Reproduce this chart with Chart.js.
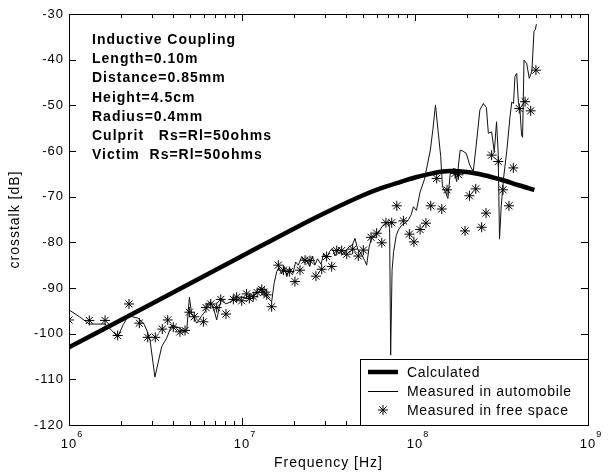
<!DOCTYPE html>
<html>
<head>
<meta charset="utf-8">
<title>Crosstalk vs frequency</title>
<script src="https://cdn.jsdelivr.net/npm/chart.js@4.4.1/dist/chart.umd.min.js"></script>
<style>
  html, body { margin: 0; padding: 0; background: #fff; }
</style>
</head>
<body>
<canvas id="crosstalk-chart" width="608" height="475"></canvas>
<script>
// calculated crosstalk (thick curve)
const calcFreq = [1e6, 3.162e6, 1e7, 1.995e7, 3.162e7, 5.012e7, 6.31e7, 8.185e7, 1e8, 1.259e8,
                  1.585e8, 1.995e8, 2.512e8, 3.162e8, 3.981e8, 4.898e8];
const calcDb = [-103, -93.0, -83.0, -77.0, -73.2, -69.7, -68.2, -66.8, -65.8, -64.9,
                -64.4, -64.6, -65.3, -66.3, -67.5, -68.5];

// measured in automobile (thin line)
const autoFreq = [1e6, 1.15e6, 1.31e6, 1.616e6, 1.77e6, 1.911e6, 2.059e6, 2.203e6, 2.515e6, 2.723e6,
                  2.813e6, 2.94e6, 3.138e6, 3.436e6, 3.668e6, 3.925e6, 4.141e6, 4.379e6, 4.545e6, 4.784e6,
                  4.965e6, 5.107e6, 5.476e6, 5.872e6, 6.11e6, 6.342e6, 6.598e6, 6.912e6, 7.141e6, 7.412e6,
                  7.64e6, 8.042e6, 8.525e6, 8.931e6, 9.357e6, 9.919e6, 1.051e7, 1.111e7, 1.154e7, 1.209e7,
                  1.27e7, 1.327e7, 1.39e7, 1.484e7, 1.533e7, 1.588e7, 1.637e7, 1.695e7, 1.755e7, 1.817e7,
                  1.882e7, 1.971e7, 2.041e7, 2.115e7, 2.215e7, 2.294e7, 2.376e7, 2.46e7, 2.548e7, 2.638e7,
                  2.732e7, 2.862e7, 2.964e7, 3.069e7, 3.215e7, 3.33e7, 3.448e7, 3.613e7, 3.785e7, 3.966e7,
                  4.155e7, 4.353e7, 4.497e7, 4.668e7, 4.89e7, 5.124e7, 5.257e7, 5.431e7, 5.624e7, 5.892e7,
                  6.173e7, 6.468e7, 6.777e7, 7.017e7, 7.133e7, 7.233e7, 7.37e7, 7.525e7, 7.793e7, 8.014e7,
                  8.357e7, 8.756e7, 9.173e7, 9.499e7, 9.792e7, 1.019e8, 1.07e8, 1.132e8, 1.227e8, 1.271e8,
                  1.313e8, 1.363e8, 1.408e8, 1.441e8, 1.497e8, 1.549e8, 1.605e8, 1.681e8, 1.741e8, 1.824e8,
                  1.884e8, 1.978e8, 2.073e8, 2.172e8, 2.275e8, 2.372e8, 2.485e8, 2.587e8, 2.654e8, 2.773e8,
                  2.873e8, 2.96e8, 3.023e8, 3.08e8, 3.152e8, 3.242e8, 3.397e8, 3.541e8, 3.625e8, 3.71e8,
                  3.781e8, 3.87e8, 3.961e8, 4.045e8, 4.131e8, 4.188e8, 4.267e8, 4.419e8, 4.577e8, 4.739e8,
                  4.873e8, 4.965e8, 5.03e8];
const autoDb = [-94.8, -96.3, -97.9, -97.9, -99.3, -100.7, -98.0, -96.1, -96.6, -98.0,
                -99.2, -101.4, -109.5, -102.8, -101.0, -98.1, -98.5, -98.8, -99.4, -99.6,
                -92.0, -95.5, -97.7, -96.0, -95.2, -93.4, -93.1, -95.0, -97.0, -94.0,
                -92.3, -93.5, -93.1, -92.6, -92.7, -92.0, -92.2, -91.5, -92.0, -90.8,
                -89.8, -91.0, -91.9, -93.0, -89.0, -86.4, -85.5, -86.9, -85.3, -87.5,
                -85.6, -86.8, -84.3, -85.0, -83.1, -84.5, -84.0, -85.3, -83.0, -85.0,
                -83.6, -84.8, -82.5, -83.5, -82.0, -81.3, -83.0, -81.5, -82.6, -82.0,
                -81.0, -80.5, -79.1, -81.5, -82.5, -84.0, -85.0, -81.0, -78.9, -78.6,
                -77.8, -76.5, -76.0, -75.5, -77.0, -104.7, -86.1, -82.0, -78.5, -77.3,
                -76.3, -75.8, -75.0, -74.0, -72.2, -73.0, -69.0, -66.3, -59.8, -55.0,
                -49.9, -56.0, -61.2, -67.8, -68.9, -70.4, -64.3, -63.8, -66.7, -59.8,
                -60.0, -60.5, -63.1, -64.5, -57.6, -51.0, -49.6, -50.5, -56.1, -55.8,
                -60.2, -53.6, -60.0, -79.3, -72.0, -66.3, -59.8, -52.5, -49.3, -49.6,
                -43.7, -43.0, -49.3, -51.0, -56.5, -57.0, -40.1, -40.8, -44.1, -42.5,
                -33.8, -33.4, -32.2];

// measured in free space (asterisks)
const freeFreq = [1e6, 1.31e6, 1.616e6, 1.911e6, 2.223e6, 2.55e6, 2.852e6, 3.153e6, 3.461e6, 3.72e6,
                  4.009e6, 4.379e6, 4.685e6, 4.965e6, 5.3e6, 5.982e6, 6.195e6, 6.598e6, 7.141e6, 7.534e6,
                  8.081e6, 8.911e6, 9.313e6, 9.964e6, 1.063e7, 1.102e7, 1.162e7, 1.224e7, 1.3e7, 1.342e7,
                  1.39e7, 1.484e7, 1.621e7, 1.735e7, 1.878e7, 2.023e7, 2.164e7, 2.316e7, 2.471e7, 2.675e7,
                  2.889e7, 3.084e7, 3.3e7, 3.529e7, 3.768e7, 4.031e7, 4.363e7, 4.701e7, 5.029e7, 5.572e7,
                  6.004e7, 6.423e7, 6.792e7, 7.335e7, 7.847e7, 8.574e7, 9.28e7, 9.859e7, 1.07e8, 1.157e8,
                  1.233e8, 1.335e8, 1.428e8, 1.531e8, 1.705e8, 1.786e8, 1.946e8, 2.063e8, 2.244e8, 2.428e8,
                  2.574e8, 2.773e8, 3.03e8, 3.227e8, 3.493e8, 3.702e8, 4.007e8, 4.327e8, 4.662e8, 5.0e8];
const freeDb = [-97.0, -97.1, -97.1, -100.4, -93.5, -97.7, -100.8, -100.8, -99.0, -97.0,
                -98.6, -99.6, -99.3, -95.3, -96.3, -97.4, -94.3, -93.5, -94.3, -92.5,
                -95.7, -92.5, -92.0, -92.8, -91.3, -92.3, -91.9, -91.0, -90.3, -90.9,
                -91.5, -94.1, -85.0, -86.1, -86.4, -88.6, -86.1, -83.9, -84.0, -87.4,
                -85.9, -83.1, -85.3, -81.8, -81.8, -82.6, -81.5, -83.0, -81.7, -78.9,
                -78.0, -80.1, -75.7, -75.7, -72.0, -75.3, -78.2, -79.9, -77.2, -75.8,
                -72.0, -66.0, -72.7, -68.5, -64.9, -65.2, -77.5, -69.8, -68.3, -76.7,
                -73.6, -60.9, -62.3, -68.5, -72.0, -63.7, -50.7, -49.2, -51.2, -42.3];

// axes
const decades = [1e6, 1e7, 1e8, 1e9];
const decadeExps = ['6', '7', '8', '9'];
const yMin = -120, yMax = -30, yStep = 10;

const seriesNames = ['Calculated', 'Measured in automobile', 'Measured in free space'];
const noteLines = ['Inductive Coupling', 'Length=0.10m', 'Distance=0.85mm', 'Height=4.5cm',
                   'Radius=0.4mm', 'Culprit   Rs=Rl=50ohms', 'Victim  Rs=Rl=50ohms'];

const FONT = '"Liberation Sans", Arial, Helvetica, sans-serif';

function pairs(xs, ys) {
    return xs.map((x, i) => ({ x: x, y: ys[i] }));
}

function drawStar(ctx, x, y, r) {
    const d = r * Math.SQRT1_2;
    ctx.beginPath();
    ctx.moveTo(x - r, y); ctx.lineTo(x + r, y);
    ctx.moveTo(x, y - r); ctx.lineTo(x, y + r);
    ctx.moveTo(x - d, y - d); ctx.lineTo(x + d, y + d);
    ctx.moveTo(x - d, y + d); ctx.lineTo(x + d, y - d);
    ctx.stroke();
}

// box, inward ticks, decade labels, text block and legend
const decorations = {
    id: 'decorations',
    beforeDraw(chart) {
        chart.ctx.letterSpacing = '1px';
    },
    afterDatasetsDraw(chart) {
        const { ctx, chartArea: a, scales: { x, y } } = chart;
        ctx.save();
        ctx.strokeStyle = '#000';
        ctx.fillStyle = '#000';
        ctx.lineWidth = 1;

        // x ticks, top and bottom
        ctx.beginPath();
        x.ticks.forEach(t => {
            const px = Math.round(x.getPixelForValue(t.value)) + 0.5;
            const len = decades.includes(t.value) ? 7 : 4;
            ctx.moveTo(px, a.bottom); ctx.lineTo(px, a.bottom - len);
            ctx.moveTo(px, a.top); ctx.lineTo(px, a.top + len);
        });
        // y ticks, left and right
        for (let v = yMin; v <= yMax; v += yStep) {
            const py = Math.round(y.getPixelForValue(v)) + 0.5;
            ctx.moveTo(a.left, py); ctx.lineTo(a.left + 7, py);
            ctx.moveTo(a.right, py); ctx.lineTo(a.right - 7, py);
        }
        ctx.stroke();
        ctx.strokeRect(a.left + 0.5, a.top + 0.5, a.right - a.left, a.bottom - a.top);

        // decade labels 10^n
        ctx.textBaseline = 'alphabetic';
        decades.forEach((d, i) => {
            const px = x.getPixelForValue(d);
            ctx.font = '13px ' + FONT;
            ctx.textAlign = 'center';
            ctx.fillText('10', px, a.bottom + 23);
            const w = ctx.measureText('10').width;
            ctx.font = '9px ' + FONT;
            ctx.textAlign = 'left';
            ctx.fillText(decadeExps[i], px + w / 2, a.bottom + 12);
        });

        // parameter block
        ctx.font = 'bold 14px ' + FONT;
        ctx.textAlign = 'left';
        noteLines.forEach((s, i) => ctx.fillText(s, 92, 44 + i * 19.2));

        // legend
        const lx = 360, ly = 359;
        ctx.fillStyle = '#fff';
        ctx.fillRect(lx, ly, a.right - lx, a.bottom - ly);
        ctx.strokeRect(lx + 0.5, ly + 0.5, a.right - lx, a.bottom - ly);
        ctx.fillStyle = '#000';
        ctx.letterSpacing = '0.7px';
        ctx.font = '14px ' + FONT;
        ctx.textBaseline = 'middle';
        const rows = [372, 391, 410];
        ctx.lineWidth = 4.5;
        ctx.beginPath(); ctx.moveTo(368, rows[0]); ctx.lineTo(398, rows[0]); ctx.stroke();
        ctx.lineWidth = 1;
        ctx.beginPath(); ctx.moveTo(368, rows[1] + 0.5); ctx.lineTo(398, rows[1] + 0.5); ctx.stroke();
        drawStar(ctx, 383, rows[2], 5);
        seriesNames.forEach((s, i) => ctx.fillText(s, 407, rows[i] + 1));
        ctx.restore();
    }
};

const chart = new Chart(document.getElementById('crosstalk-chart'), {
    type: 'scatter',
    data: {
        datasets: [
            {
                label: seriesNames[0],
                data: pairs(calcFreq, calcDb),
                showLine: true,
                borderColor: '#000',
                borderWidth: 4.5,
                pointRadius: 0,
                cubicInterpolationMode: 'monotone',
                order: 3
            },
            {
                label: seriesNames[1],
                data: pairs(autoFreq, autoDb),
                showLine: true,
                borderColor: '#111',
                borderWidth: 1,
                pointRadius: 0,
                order: 2
            },
            {
                label: seriesNames[2],
                data: pairs(freeFreq, freeDb),
                showLine: false,
                pointStyle: 'star',
                pointRadius: 5,
                borderColor: '#000',
                borderWidth: 1,
                order: 1
            }
        ]
    },
    options: {
        responsive: false,
        animation: false,
        events: [],
        layout: { padding: { top: 14, right: 20, left: 0, bottom: 0 } },
        plugins: {
            legend: { display: false },
            tooltip: { enabled: false }
        },
        scales: {
            x: {
                type: 'logarithmic',
                min: decades[0],
                max: decades[decades.length - 1],
                afterBuildTicks: scale => {
                    const t = [];
                    for (let i = 0; i < decades.length - 1; i++) {
                        for (let m = 1; m < 10; m++) t.push({ value: m * decades[i] });
                    }
                    t.push({ value: decades[decades.length - 1] });
                    scale.ticks = t;
                },
                afterFit: scale => { scale.height = 50; },
                grid: { display: false, drawTicks: false },
                border: { display: false },
                ticks: { display: false },
                title: {
                    display: true,
                    text: 'Frequency [Hz]',
                    color: '#000',
                    font: { family: FONT, size: 14 },
                    padding: { top: 0, bottom: 3 }
                }
            },
            y: {
                min: yMin,
                max: yMax,
                afterFit: scale => { scale.width = 69; },
                grid: { display: false, drawTicks: false },
                border: { display: false },
                ticks: {
                    stepSize: yStep,
                    color: '#000',
                    padding: 5,
                    font: { family: FONT, size: 13 }
                },
                title: {
                    display: true,
                    text: 'crosstalk [dB]',
                    color: '#000',
                    font: { family: FONT, size: 14 },
                    padding: { top: 7, bottom: 0 }
                }
            }
        }
    },
    plugins: [decorations]
});
</script>
</body>
</html>
